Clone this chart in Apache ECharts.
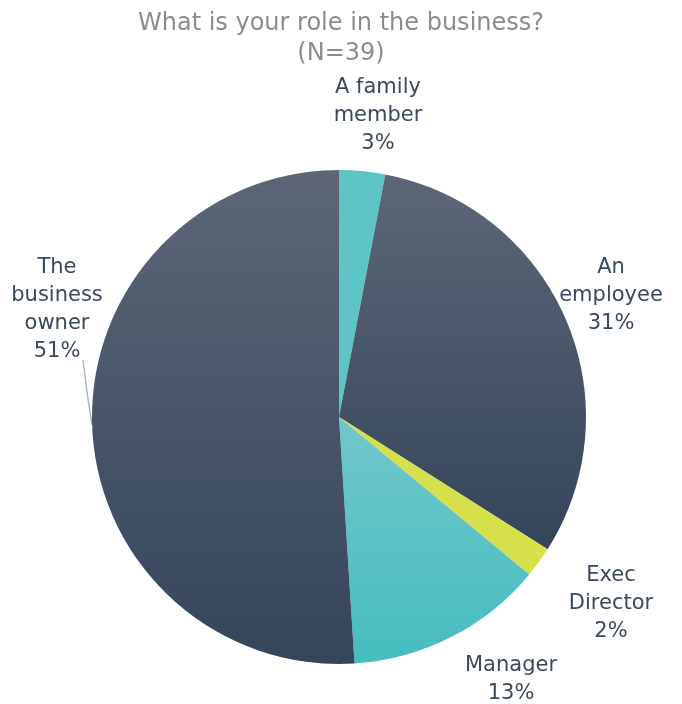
<!DOCTYPE html>
<html>
<head>
<meta charset="utf-8">
<script src="https://cdn.jsdelivr.net/npm/echarts@6/dist/echarts.min.js"></script>
<style>
  html, body { margin: 0; padding: 0; background: #ffffff; }
  #chart { width: 682px; height: 704px; }
</style>
</head>
<body>
<div id="chart"></div>
<script>
// Survey answers: share of respondents per role
const roles = ['A family\nmember', 'An\nemployee', 'Exec\nDirector', 'Manager', 'The\nbusiness\nowner'];
const shares = [3, 31, 2, 13, 51];
const titleText = 'What is your role in the business?\n(N=39)';

const FONT = '"DejaVu Sans", sans-serif';
const TEXT = '#3a495b';

function vGrad(top, bottom) {
  return new echarts.graphic.LinearGradient(0, 0, 0, 1, [
    { offset: 0, color: top },
    { offset: 1, color: bottom }
  ]);
}

const sliceColors = [
  '#5ec5c6',
  vGrad('#5c6677', '#35455a'),
  '#d6e04a',
  vGrad('#72c7ca', '#45bdc0'),
  vGrad('#5c6677', '#35455a')
];

// Where each label sits around the pie (text centre, first line)
const labelSpots = [
  { x: 378, y: 74 },
  { x: 611, y: 254 },
  { x: 611, y: 562 },
  { x: 511, y: 652 },
  { x: 57, y: 254 }
];

const chart = echarts.init(document.getElementById('chart'), null, { renderer: 'canvas' });

chart.setOption({
  animation: false,
  title: {
    text: titleText,
    left: 'center',
    top: 4,
    textStyle: {
      fontFamily: FONT,
      fontSize: 24,
      fontWeight: 'normal',
      color: '#8c8c8c',
      lineHeight: 30
    }
  },
  series: [{
    type: 'pie',
    center: [339, 417],
    radius: [0, 247],
    startAngle: 90,
    clockwise: true,
    avoidLabelOverlap: false,
    itemStyle: { borderWidth: 0 },
    label: {
      show: true,
      position: 'outside',
      formatter: function (p) { return p.name + '\n' + p.value + '%'; },
      fontFamily: FONT,
      fontSize: 21,
      lineHeight: 28,
      color: TEXT,
      align: 'center'
    },
    labelLine: { show: false },
    labelLayout: function (params) {
      const s = labelSpots[params.dataIndex];
      const out = {
        x: s.x,
        y: s.y,
        align: 'center',
        verticalAlign: 'top'
      };
      if (params.dataIndex === 4) {
        out.labelLinePoints = [[83, 360], [87, 392], [92, 425]];
      }
      return out;
    },
    data: roles.map(function (name, i) {
      const d = { name: name, value: shares[i], itemStyle: { color: sliceColors[i] } };
      if (i === 4) {
        d.labelLine = { show: true, length: 10, length2: 10, lineStyle: { color: '#a9b4c2', width: 1.5 } };
      }
      return d;
    })
  }]
});
</script>
</body>
</html>
